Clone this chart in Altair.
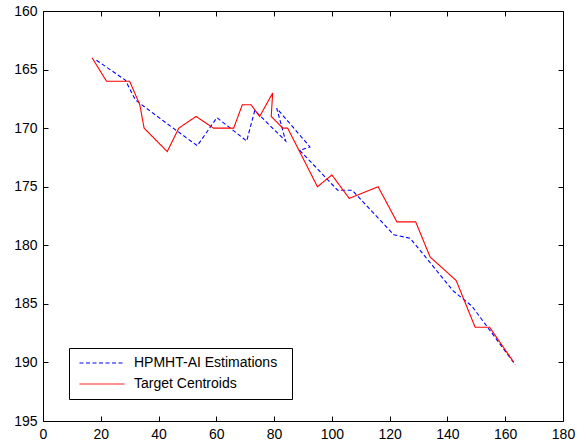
import altair as alt
import pandas as pd

# ---- data ----
series = ["HPMHT-AI Estimations", "Target Centroids"]

blue_x = [18.5, 28.5, 32, 42.3, 53.4, 60.2, 70.5, 73.3, 84, 80.9, 92.4, 88.9,
          102, 107, 121.4, 127.1, 142, 148.5, 163.5]
blue_y = [164.2, 165.9, 167.6, 169.5, 171.5, 169.1, 171.1, 168.5, 171.1, 168.3,
          171.6, 171.9, 175.3, 175.3, 179.1, 179.4, 183.9, 185.2, 190.2]

red_x = [17, 22, 30, 33.5, 35, 43, 47, 53, 59, 66, 69, 72, 75, 79.5, 79, 83, 84.7,
         95, 100, 106, 116, 122.5, 129, 134, 143, 149.6, 154.6, 163]
red_y = [164, 166, 166, 168, 170, 172, 170, 169, 170, 170, 168, 168, 169, 167, 169,
         170, 170, 175, 174, 176, 175, 178, 178, 181, 183, 187, 187, 190]

x_ticks = [0, 20, 40, 60, 80, 100, 120, 140, 160, 180]
y_ticks = [160, 165, 170, 175, 180, 185, 190, 195]

blue = pd.DataFrame({"x": blue_x, "y": blue_y, "series": series[0],
                     "i": list(range(len(blue_x)))})
red = pd.DataFrame({"x": red_x, "y": red_y, "series": series[1],
                    "i": list(range(len(red_x)))})

FONT = "Liberation Sans"
xs = alt.Scale(domain=[0, 180], nice=False, zero=False)
ys = alt.Scale(domain=[160, 195], nice=False, zero=False, reverse=True)

axis_common = dict(
    grid=False, title=None, domainColor="black", domainWidth=1,
    tickColor="black", tickWidth=1, tickSize=alt.ExprRef(expr="-5"),
    labelColor="black", labelFont=FONT, labelFontSize=14,
    labelFlush=False, labelOverlap=False,
)

leg = alt.Legend(title="\u00a0", titleOrient="right", titlePadding=7)
color = alt.Color("series:N",
                  scale=alt.Scale(domain=series, range=["#0000ff", "#ff0000"]),
                  legend=leg)
dash = alt.StrokeDash("series:N",
                      scale=alt.Scale(domain=series, range=[[4, 2.5], [1, 0]]),
                      legend=leg)

blue_layer = alt.Chart(blue).mark_line(strokeWidth=1.1).encode(
    x=alt.X("x:Q", scale=xs,
            axis=alt.Axis(orient="bottom", values=x_ticks, labelPadding=11, **axis_common)),
    y=alt.Y("y:Q", scale=ys,
            axis=alt.Axis(orient="left", values=y_ticks, labelPadding=11, **axis_common)),
    color=color, strokeDash=dash, order="i:Q",
)

red_layer = alt.Chart(red).mark_line(strokeWidth=1.1).encode(
    x=alt.X("x:Q", scale=xs,
            axis=alt.Axis(orient="top", values=x_ticks, labels=False, **axis_common)),
    y=alt.Y("y:Q", scale=ys,
            axis=alt.Axis(orient="right", values=y_ticks, labels=False, **axis_common)),
    color=color, strokeDash=dash, order="i:Q",
)

chart = alt.layer(blue_layer, red_layer).resolve_axis(
    x="independent", y="independent"
).properties(
    width=520, height=410,
    padding={"left": 43, "top": 11, "right": 24, "bottom": 21},
    autosize=alt.AutoSizeParams(type="none"),
    background="white",
).configure_view(stroke=None).configure_legend(
    orient="none", legendX=26, legendY=337,
    fillColor="white", strokeColor="black", strokeWidth=1, cornerRadius=0,
    padding=8, rowPadding=7,
    symbolType="M-4.5,0H4.5", symbolSize=100, symbolStrokeWidth=1,
    symbolOffset=18, labelOffset=25,
    labelFont=FONT, labelFontSize=14, labelColor="black",
)

chart.save("out.html", embed_options={"renderer": "svg", "actions": False})
